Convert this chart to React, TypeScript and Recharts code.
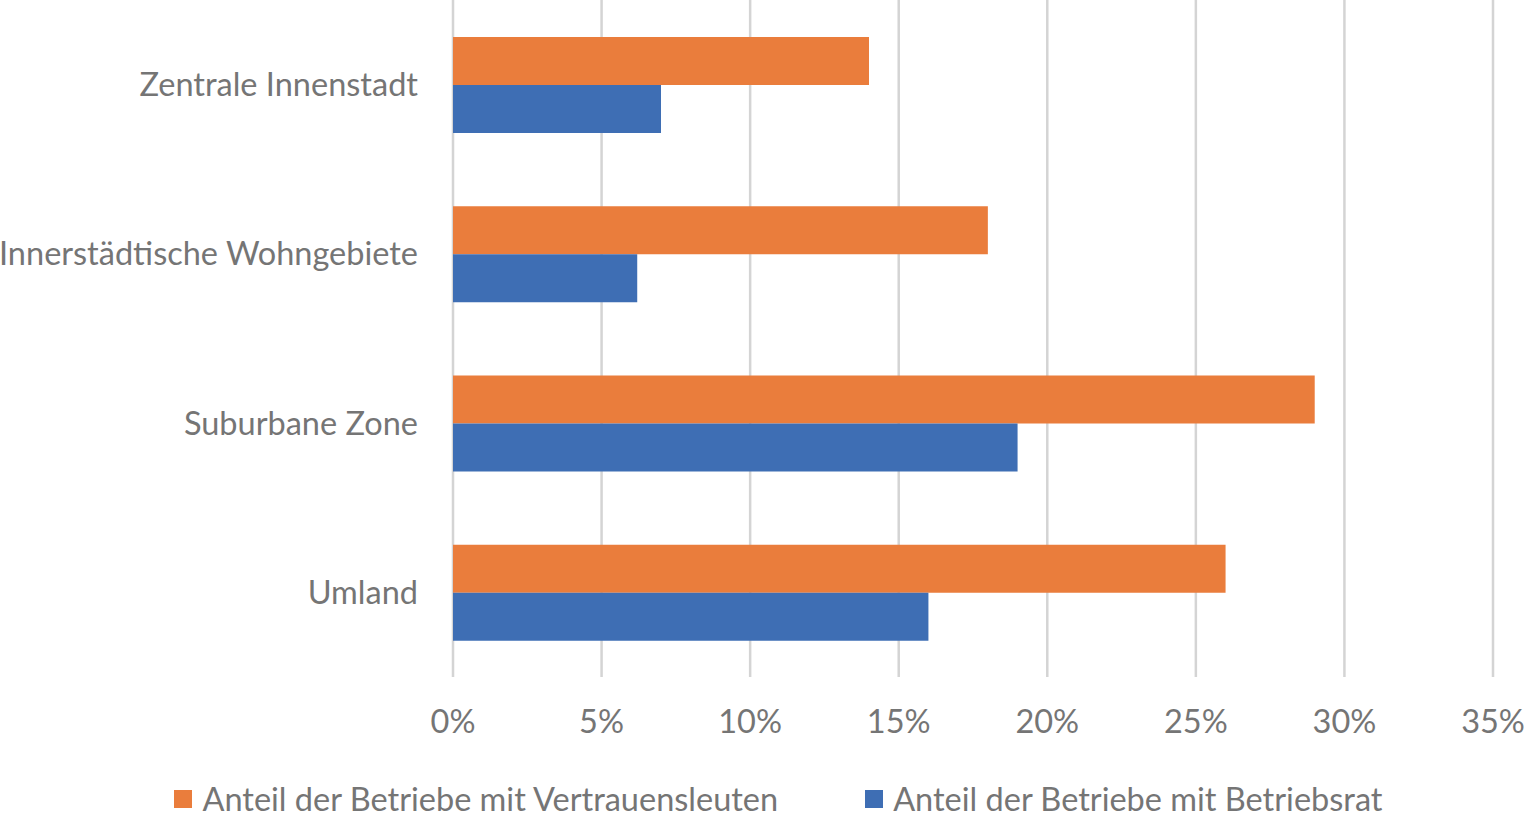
import { BarChart, Bar, XAxis, YAxis, CartesianGrid, Legend } from 'recharts';

const CATEGORIES = ['Zentrale Innenstadt', 'Innerstädtische Wohngebiete', 'Suburbane Zone', 'Umland'];
const VERTRAUENSLEUTE = [0.14, 0.18, 0.29, 0.26];
const BETRIEBSRAT = [0.07, 0.062, 0.19, 0.16];
const X_TICKS = [0, 0.05, 0.1, 0.15, 0.2, 0.25, 0.3, 0.35];

const SERIES = [
  { key: 'vertrauen', name: 'Anteil der Betriebe mit Vertrauensleuten', color: '#EA7D3C' },
  { key: 'betriebsrat', name: 'Anteil der Betriebe mit Betriebsrat', color: '#3E6EB4' },
];

const data = CATEGORIES.map((c, i) => ({
  category: c,
  vertrauen: VERTRAUENSLEUTE[i],
  betriebsrat: BETRIEBSRAT[i],
}));

const TEXT = '#757575';
const FONT_SIZE = 32.5;

function LegendContent() {
  return (
    <div style={{ display: 'flex', justifyContent: 'center', alignItems: 'center', gap: 87, paddingLeft: 64, paddingTop: 8 }}>
      {SERIES.map((s) => (
        <div key={s.key} style={{ display: 'flex', alignItems: 'center', color: TEXT, fontSize: FONT_SIZE }}>
          <span style={{ width: 18, height: 18, background: s.color, display: 'inline-block', marginRight: 10 }} />
          <span>{s.name}</span>
        </div>
      ))}
    </div>
  );
}

export default function App() {
  return (
    <div style={{ position: 'absolute', left: 0, top: 0, fontFamily: 'Lato, sans-serif', background: '#fff' }}>
      <BarChart
        width={1524}
        height={821}
        data={data}
        layout="vertical"
        margin={{ top: 0, right: 31, left: 0, bottom: 0 }}
        barSize={48}
        barGap={0}
      >
        <CartesianGrid horizontal={false} stroke="#d4d4d4" strokeWidth={2.5} />
        <XAxis
          type="number"
          domain={[0, 0.35]}
          ticks={X_TICKS}
          tickFormatter={(v: number) => `${Math.round(v * 100)}%`}
          axisLine={false}
          tickLine={false}
          tickSize={0}
          tickMargin={33}
          height={94}
          tick={{ fill: TEXT, fontSize: FONT_SIZE }}
          interval={0}
        />
        <YAxis
          type="category"
          dataKey="category"
          width={453}
          axisLine={false}
          tickLine={false}
          tickSize={0}
          tickMargin={35}
          tick={{ fill: TEXT, fontSize: FONT_SIZE }}
          interval={0}
        />
        <Legend verticalAlign="bottom" height={50} content={<LegendContent />} />
        {SERIES.map((s) => (
          <Bar key={s.key} dataKey={s.key} name={s.name} fill={s.color} isAnimationActive={false} />
        ))}
      </BarChart>
    </div>
  );
}
